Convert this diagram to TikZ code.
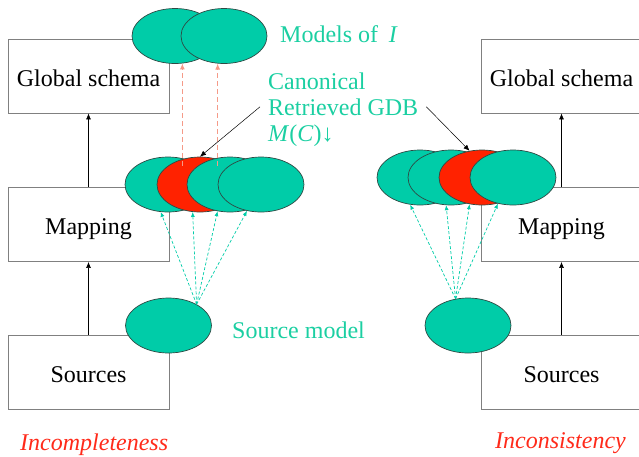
\documentclass[tikz,border=0pt]{standalone}
\usepackage{fontspec}
\setmainfont{Liberation Serif}
\newfontfamily\tnr{Liberation Serif}
\usetikzlibrary{shapes.geometric,arrows.meta,calc}
\definecolor{tealfill}{HTML}{00CCA8}
\definecolor{tealtxt}{HTML}{1BCFA2}
\definecolor{redfill}{HTML}{FF2200}
\definecolor{redtxt}{HTML}{FF2A1A}
\definecolor{salmon}{HTML}{F59A88}
\definecolor{boxgray}{HTML}{808080}
\definecolor{edgec}{HTML}{2E4A44}
\begin{document}
\begin{tikzpicture}[x=1pt,y=-1pt,
  box/.style={draw=boxgray,line width=0.9pt,minimum width=161pt,minimum height=74pt,inner sep=0pt,text height=20pt,text depth=0pt,font=\tnr\fontsize{24}{26}\selectfont},
  blob/.style={ellipse,draw=edgec,line width=0.7pt,fill=tealfill,minimum width=86pt,minimum height=55pt,inner sep=0pt},
  redblob/.style={blob,fill=redfill},
  up/.style={-{Latex[length=6pt,width=5pt]},line width=0.6pt},
  tdash/.style={-{Latex[length=5pt,width=4pt]},draw=tealfill,dash pattern=on 3pt off 2pt,line width=0.7pt},
  rdash/.style={-{Latex[length=6pt,width=5pt]},draw=salmon,dash pattern=on 5pt off 3pt,line width=1pt},
  lbl/.style={text=tealtxt,font=\tnr\fontsize{24}{26}\selectfont,inner sep=0pt,anchor=base west},
  warn/.style={text=redtxt,font=\tnr\fontsize{24}{26}\selectfont\itshape,inner sep=0pt,anchor=base west},
]
\useasboundingbox (0,0) rectangle (639,456);
\clip (0,0) rectangle (639,456);
% boxes
\node[box] (gsL) at (88.5,76) {Global schema};
\node[box] (mapL) at (88.5,224.5) {Mapping};
\node[box] (srcL) at (88.5,372) {Sources};
\node[box] (gsR) at (561.5,76) {Global schema};
\node[box] (mapR) at (561.5,224.5) {Mapping};
\node[box] (srcR) at (561.5,372) {Sources};
\draw[up] (mapL) -- (gsL);
\draw[up] (srcL) -- (mapL);
\draw[up] (mapR) -- (gsR);
\draw[up] (srcR) -- (mapR);
% ellipses
\node[blob] (mi1) at (175,36) {};
\node[blob] (mi2) at (224,36) {};
\node[blob] (eL1) at (168,184.5) {};
\node[redblob] (eL2) at (200,184.5) {};
\node[blob] (eL3) at (230,184.5) {};
\node[blob] (eL4) at (261,184.5) {};
\node[blob] (eR1) at (420,177.5) {};
\node[blob] (eR2) at (451,177.5) {};
\node[redblob] (eR3) at (482,177.5) {};
\node[blob] (eR4) at (513,177.5) {};
\node[blob] (smL) at (168.5,325.5) {};
\node[blob] (smR) at (468,325.5) {};
% dashed connectors
\draw[tdash] (smL.37) -- (eL1.255);
\draw[tdash] (smL.37) -- (eL2.255);
\draw[tdash] (smL.37) -- (eL3.245);
\draw[tdash] (smL.37) -- (eL4.242);
\draw[tdash] (smR.115) -- (eR1.250);
\draw[tdash] (smR.115) -- (eR2.260);
\draw[tdash] (smR.115) -- (eR3.245);
\draw[tdash] (smR.115) -- (eR4.240);
\draw[rdash] ($(mi1.285 |- eL2.north)+(0,9)$) -- (mi1.285);
\draw[rdash] ($(mi2.257 |- eL2.north)+(0,9)$) -- (mi2.257);
% labels
\node[lbl] (mod) at (280,42) {Models of\hspace{0.45em}\textit{I}};
\node[lbl] (canon1) at (268,89) {Canonical};
\node[lbl,inner xsep=8pt] (canon2) at (260,115) {Retrieved GDB};
\node[lbl] (canon3) at (268,141) {\textit{M}(\textit{C})↓};
\node[lbl] (smtxt) at (232,338) {Source model};
\draw[up,line width=0.5pt] (canon2.west) -- (eL2.north);
\draw[up,line width=0.5pt] (canon2.east) -- (eR3.115);
\node[warn] (inc1) at (20,450) {Incompleteness};
\node[warn] (inc2) at (495,448) {Inconsistency};
\end{tikzpicture}
\end{document}
